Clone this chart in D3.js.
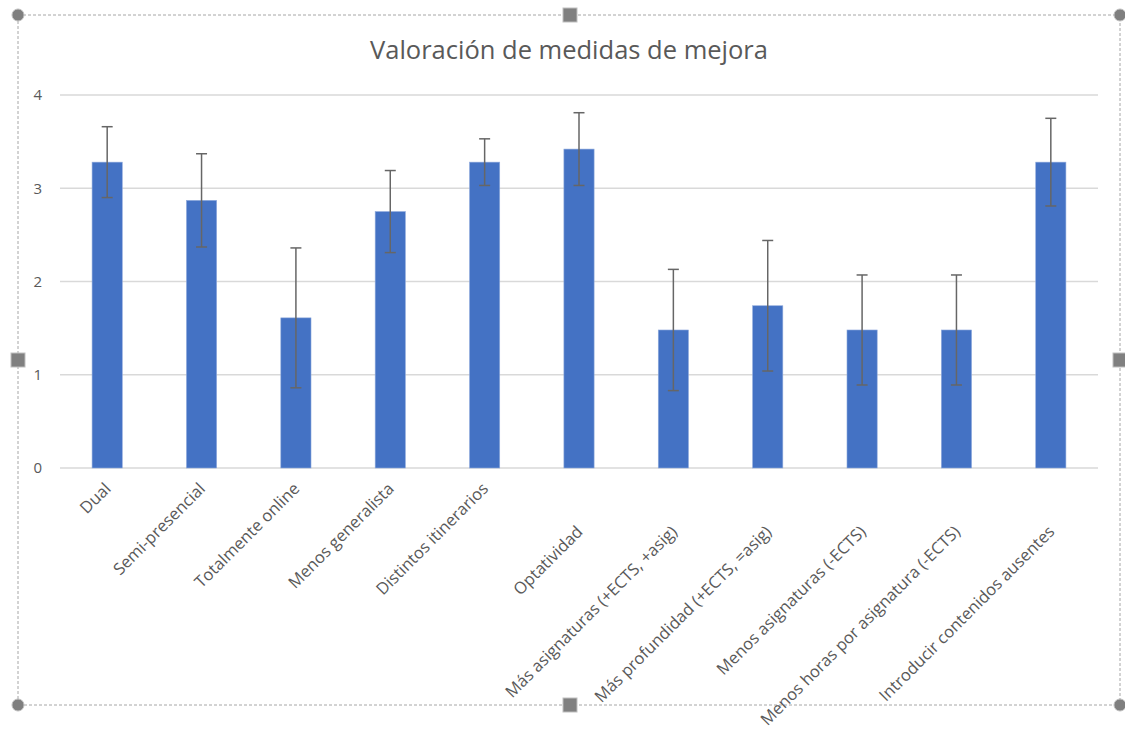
<!DOCTYPE html>
<html><head><meta charset="utf-8">
<script src="https://cdn.jsdelivr.net/npm/d3@7"></script>
<style>body{margin:0;background:#fff;}svg{display:block;font-family:"Open Sans",sans-serif;}</style>
</head><body><svg id="c" width="1125" height="729"></svg>
<script>
const title = "Valoración de medidas de mejora";
const categories = ["Dual","Semi-presencial","Totalmente online","Menos generalista","Distintos itinerarios","Optatividad","Más asignaturas (+ECTS, +asig)","Más profundidad (+ECTS, =asig)","Menos asignaturas (-ECTS)","Menos horas por asignatura (-ECTS)","Introducir contenidos ausentes"];
const values = [3.28, 2.87, 1.61, 2.75, 3.28, 3.42, 1.48, 1.74, 1.48, 1.48, 3.28];
const errors = [0.38, 0.50, 0.75, 0.44, 0.25, 0.39, 0.65, 0.70, 0.59, 0.59, 0.47];
const yTicks = [0, 1, 2, 3, 4];

const svg = d3.select("#c");
const m = {left: 60, right: 1098, top: 95, bottom: 468};

// frame (selection box)
const fr = {x0: 18, y0: 15, x1: 1120, y1: 705};
svg.append("rect").attr("x", fr.x0).attr("y", fr.y0).attr("width", fr.x1 - fr.x0).attr("height", fr.y1 - fr.y0)
  .attr("fill", "none").attr("stroke", "#a6a6a6").attr("stroke-width", 1).attr("stroke-dasharray", "3,2");

const x = d3.scaleBand().domain(categories).range([m.left, m.right]).paddingInner(0.68).paddingOuter(0.34);
const y = d3.scaleLinear().domain([0, 4]).range([m.bottom, m.top]);

// gridlines
svg.append("g").selectAll("line").data(yTicks).join("line")
  .attr("x1", m.left).attr("x2", m.right)
  .attr("y1", d => y(d)).attr("y2", d => y(d))
  .attr("stroke", "#d9d9d9").attr("stroke-width", 1.3);

// y axis labels
const yAxis = d3.axisLeft(y).tickValues(yTicks).tickSize(0).tickPadding(0).tickFormat(d3.format("d"));
const ya = svg.append("g").attr("transform", `translate(42,0)`).call(yAxis);
ya.select(".domain").remove();
ya.selectAll("text").attr("fill", "#595959").attr("font-size", 15).attr("font-family", "Open Sans, sans-serif");

// bars
svg.append("g").selectAll("rect").data(categories).join("rect")
  .attr("x", d => x(d)).attr("width", x.bandwidth())
  .attr("y", (d, i) => y(values[i])).attr("height", (d, i) => y(0) - y(values[i]))
  .attr("fill", "#4472c4").attr("stroke", "#8faadc").attr("stroke-width", 0.6);

// error bars
const eg = svg.append("g").attr("stroke", "#666666").attr("stroke-width", 1.5);
categories.forEach((c, i) => {
  const cx = x(c) + x.bandwidth() / 2;
  const hi = y(values[i] + errors[i]), lo = y(values[i] - errors[i]);
  eg.append("line").attr("x1", cx).attr("x2", cx).attr("y1", hi).attr("y2", lo);
  eg.append("line").attr("x1", cx - 5.5).attr("x2", cx + 5.5).attr("y1", hi).attr("y2", hi);
  eg.append("line").attr("x1", cx - 5.5).attr("x2", cx + 5.5).attr("y1", lo).attr("y2", lo);
});

// x labels rotated
svg.append("g").selectAll("text").data(categories).join("text")
  .attr("transform", (d, i) => {
    const cx = x(d) + x.bandwidth() / 2 - 4;
    const yy = 481 + (i >= 5 ? 43 : 0);
    return `translate(${cx},${yy}) rotate(-45)`;
  })
  .attr("text-anchor", "end").attr("dy", "0.75em")
  .attr("fill", "#595959").attr("font-size", 16.5)
  .text(d => d);

// title
svg.append("text").attr("x", 569).attr("y", 59).attr("text-anchor", "middle")
  .attr("fill", "#595959").attr("font-size", 25.5).text(title);

// handles
const handles = [[fr.x0, fr.y0, "c"], [fr.x1, fr.y0, "c"], [fr.x0, fr.y1, "c"], [fr.x1, fr.y1, "c"],
  [570, fr.y0, "s"], [570, fr.y1, "s"], [fr.x0, 360, "s"], [fr.x1, 360, "s"]];
handles.forEach(([hx, hy, t]) => {
  if (t === "c") svg.append("circle").attr("cx", hx).attr("cy", hy).attr("r", 6).attr("fill", "#7f7f7f").attr("stroke", "#bfbfbf");
  else svg.append("rect").attr("x", hx - 7).attr("y", hy - 7).attr("width", 14).attr("height", 14).attr("fill", "#808080").attr("stroke", "#bfbfbf");
});
</script></body></html>
